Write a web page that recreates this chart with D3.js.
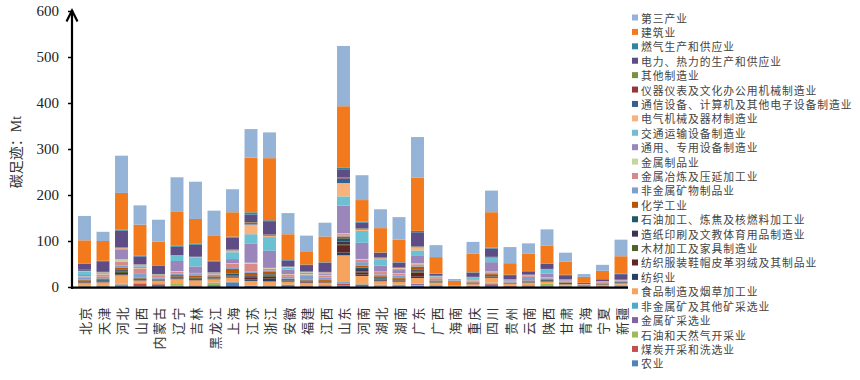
<!DOCTYPE html>
<html><head><meta charset="utf-8">
<script src="https://cdn.jsdelivr.net/npm/d3@7/dist/d3.min.js"></script>
<style>body{margin:0;background:#fff}svg{display:block}</style>
</head><body><svg id="c" width="860" height="380"></svg>
<script>
const provinces = ["北京","天津","河北","山西","内蒙古","辽宁","吉林","黑龙江","上海","江苏","浙江","安徽","福建","江西","山东","河南","湖北","湖南","广东","广西","海南","重庆","四川","贵州","云南","陕西","甘肃","青海","宁夏","新疆"];

// sectors, bottom of stack to top
const sectorNames = ["农业","煤炭开采和洗选业","石油和天然气开采业","金属矿采选业","非金属矿及其他矿采选业","食品制造及烟草加工业","纺织业","纺织服装鞋帽皮革羽绒及其制品业","木材加工及家具制造业","造纸印刷及文教体育用品制造业","石油加工、炼焦及核燃料加工业","化学工业","非金属矿物制品业","金属冶炼及压延加工业","金属制品业","通用、专用设备制造业","交通运输设备制造业","电气机械及器材制造业","通信设备、计算机及其他电子设备制造业","仪器仪表及文化办公用机械制造业","其他制造业","电力、热力的生产和供应业","燃气生产和供应业","建筑业","第三产业"];
const sectorColors = ["#4f81bd","#c0504d","#9bbb59","#8064a2","#4bacc6","#f6a35e","#254061","#632523","#4f6228","#403152","#215968","#b65708","#7f9fcf","#d88a88","#c3d69b","#9a86bb","#6cc0d4","#f9b27c","#376092","#953735","#77933c","#5e4c85","#31859c","#f27a1c","#95b3d7"];

const agriculture    = [1,1.5,3,1.5,2,1.5,1.5,2,10,2,1,2,1.5,1.5,3,2,1.5,2,3,2,0.3,1,5,1,1.5,1.5,1,0.5,0.5,1.5];
const coal           = [0.5,0.5,2,6,4,1,1,2,0.5,0.5,0.3,2,1,1,4,3,1,1.5,0.5,0.5,0,1,2,1.5,1,2,0.5,0.5,1.5,1];
const oilGas         = [0.5,1.5,1,0.5,1,4,1,5,0.3,0.3,0.2,0.3,0.3,0.3,1,1,0.5,0.3,1,0.2,0.1,0.5,1.5,0.2,0.2,3,1,0.3,0.2,2];
const metalMining    = [0.2,0.3,1,0.5,1,1,0.5,0.5,0.2,0.2,0.3,0.5,0.5,1,2,1,1,1,2,1,0.1,0.3,0.5,0.5,1,0.5,0.5,0.3,0.2,0.5];
const otherMining    = [0.3,0.2,0.5,0.3,0.3,0.5,0.3,0.3,0.2,0.3,0.3,0.3,0.5,0.5,1,1,1,0.5,1,0.5,0.1,0.3,0.5,0.3,0.5,0.3,0.2,0.2,0.2,0.2];
const food           = [6,6,18,5,5,9,10,7,9,10,10,6,5,5,58,16,7.5,6,12,5,0.6,3,10,3,5,4,2.5,1,1.5,2.5];
const textile        = [0.5,0.5,2,0.5,0.5,0.5,0.3,0.5,1,3,6,0.5,1,0.5,6,3,2,1,3,0.3,0.05,0.3,1,0.2,0.2,0.3,0.2,0.1,0.2,0.5];
const apparel        = [1,1.5,3,0.5,0.5,1,0.5,0.5,1.5,5,4,1,1.5,1,16,5,1.5,1.5,9,0.3,0.05,0.5,2,0.2,0.3,0.5,0.2,0.1,0.1,0.3];
const wood           = [0.5,0.5,3,0.3,0.3,0.5,4,1,0.5,1,3,0.5,1,0.5,2,2,0.5,1,2,1,0.1,0.3,1,0.3,0.5,0.3,0.2,0.1,0.1,0.2];
const paper          = [1.5,1,3,0.5,0.5,1,1,0.5,2,2,2,1,1,1,6,5,1.5,1.5,3,1,0.2,0.5,2,0.5,1,0.5,0.3,0.1,0.3,0.3];
const petroleum      = [2,2,2,3,1,3,1,2,4,1.5,1,1,1,1,7,3,1.5,1.5,2,0.5,0.2,0.5,1,0.5,1,2,2,0.3,1,1.5];
const chemical       = [2,3,4,2,2,3,4,2,10,5,6,3,2,2,4,4,4,3,6,2,0.2,2,2,1.5,2,2,1.5,1,2,1.5];
const nonMetalMineral= [4,4,4,8,3,3,3,3,2,3,2,4,8,5,2,8,4,4,3,3,0.2,2,3,2,8,2,1.5,0.5,1.5,1.5];
const smelting       = [2,5,9,12,3,4,2,1,9,17,4,5,3,5,3,5,5,4,2,2,0.05,2,2,1.5,2,1.5,2,1,2,1];
const metalProducts  = [1,1,5,1,0.5,1.5,0.5,0.5,1.5,2,1.5,1,1,1,2,2,1,1,2,0.5,0.05,0.5,0.5,0.3,0.5,0.5,0.3,0.1,0.2,0.2];
const machinery      = [3,1.5,20,3,1.5,22,14,2,9,41,37,10,2,3,60,35,13,7,16,1.5,0.1,2,20,1.5,1,8,1.5,0.2,0.5,0.5];
const transport      = [7,1,2,3,1,11,20,1,15,21,30,4,1.5,1.5,20,26,14,3,12,2,0.1,4,9,1,0.5,9,0.5,0.1,0.3,0.3];
const electrical     = [1.5,1,2,1,0.5,1,0.5,0.5,4,21,3,1.5,1,1,29,3,2,1.5,7,0.5,0.05,0.5,1,0.3,0.3,0.5,0.3,0.1,0.2,0.2];
const electronics    = [2,0.5,1,0.5,0.3,0.5,0.3,0.3,2,3,1.5,0.5,0.5,0.5,10,2,1.5,1,1.5,0.3,0.05,0.5,1,0.3,0.2,0.5,0.2,0.05,0.1,0.1];
const instruments    = [0.5,0.3,0.5,0.2,0.2,0.3,0.3,0.2,0.5,1.5,0.5,0.3,0.2,0.3,1,0.5,0.5,0.3,0.5,0.2,0.02,0.2,0.3,0.1,0.1,0.2,0.1,0.02,0.05,0.05];
const otherMfg       = [0.5,0.2,0.5,0.2,0.2,0.2,0.2,0.2,0.3,1,0.5,0.3,0.2,0.2,1,0.5,0.5,0.3,0.5,0.2,0.02,0.2,0.3,0.1,0.1,0.2,0.1,0.02,0.05,0.05];
const power          = [13,23,36,17,18,18,26,23,25,16,29,13,14,20,18,12,9,10,30,4,0.5,9,18,9,7,11,9,2,4,12];
const gas            = [1,1,2,2,1,2,2,2,2,5,2,1,1,1,3,2,1,1,3,0.5,0.2,1,2,1,1,1,1,0.5,0.5,1];
const construction   = [50,43,80,67,51,75,54,54,53,119,135,56,29,56,134,47,53,49,116,36,10,40,77,25,38,39,29,13,18,38];
const tertiary       = [53,20,81,42,48,74,81,55,50,62,56,46,34,30,131,54,41,49,88,26,4,26,47,35,22,35,19,6,13,36];

const yTicks = [0,100,200,300,400,500,600];
const yTitle = "碳足迹：Mt";

const seriesValues = [agriculture,coal,oilGas,metalMining,otherMining,food,textile,apparel,wood,paper,petroleum,chemical,nonMetalMineral,smelting,metalProducts,machinery,transport,electrical,electronics,instruments,otherMfg,power,gas,construction,tertiary];

const rows = provinces.map((p,i)=>{const r={province:p}; sectorNames.forEach((s,j)=>{r[s]=seriesValues[j][i];}); return r;});
const stacked = d3.stack().keys(sectorNames)(rows);

const svg = d3.select("#c");
const x = d3.scaleBand().domain(provinces).range([75.25,630.25]).paddingInner(0.3).paddingOuter(0.15);
const y = d3.scaleLinear().domain([0,600]).range([287,11]);
const color = d3.scaleOrdinal().domain(sectorNames).range(sectorColors);

// bars
svg.append("g").selectAll("g").data(stacked).join("g")
  .attr("fill", d=>color(d.key))
  .selectAll("rect").data(d=>d).join("rect")
  .attr("x", d=>x(d.data.province))
  .attr("width", x.bandwidth())
  .attr("y", d=>y(d[1]))
  .attr("height", d=>Math.max(0, y(d[0])-y(d[1])));

// y axis
const yAxis = svg.append("g").attr("transform","translate(72,0)")
  .call(d3.axisLeft(y).tickValues(yTicks).tickSize(4).tickSizeOuter(0).tickPadding(9).tickFormat(d3.format("d")));
yAxis.select(".domain").remove();
yAxis.selectAll(".tick line").attr("stroke","#000").attr("stroke-width",1.5);
yAxis.selectAll(".tick text").attr("font-family","'Liberation Serif', 'DejaVu Serif', serif").attr("font-size",15).attr("fill","#222");

svg.append("line").attr("x1",72).attr("x2",72).attr("y1",289).attr("y2",10).attr("stroke","#000").attr("stroke-width",2.2);
svg.append("path").attr("d","M66.5,21.5 L72,10.5 L77.5,21.5").attr("fill","none").attr("stroke","#000").attr("stroke-width",2.2);

// x axis
svg.append("line").attr("x1",71).attr("x2",628).attr("y1",287.6).attr("y2",287.6).attr("stroke","#000").attr("stroke-width",2.4);
svg.append("g").selectAll("text").data(provinces).join("text")
  .attr("transform", d=>`translate(${x(d)+x.bandwidth()/2},306) rotate(-90)`)
  .attr("text-anchor","end").attr("dominant-baseline","central")
  .attr("font-family","'Noto Sans CJK SC', sans-serif").attr("font-size",13)
  .attr("letter-spacing",1.5).attr("fill","#333")
  .text(d=>d);

// y title
svg.append("text").attr("transform","translate(16,152) rotate(-90)")
  .attr("text-anchor","middle").attr("dominant-baseline","central")
  .attr("font-family","'Liberation Serif', 'Noto Sans CJK SC', serif").attr("font-size",14).attr("fill","#333")
  .text(yTitle);

// legend (top = top of stack)
const legendItems = sectorNames.slice().reverse();
const lg = svg.append("g").selectAll("g").data(legendItems).join("g")
  .attr("transform",(d,i)=>`translate(632,${17.5 + i*14.41})`);
lg.append("rect").attr("x",0).attr("y",-3).attr("width",6).attr("height",6).attr("fill",d=>color(d));
lg.append("text").attr("x",9).attr("y",0).attr("dominant-baseline","central")
  .attr("font-family","'Noto Sans CJK SC', sans-serif").attr("font-size",10.8).attr("letter-spacing",0.95).attr("fill","#444")
  .text(d=>d);
</script></body></html>
